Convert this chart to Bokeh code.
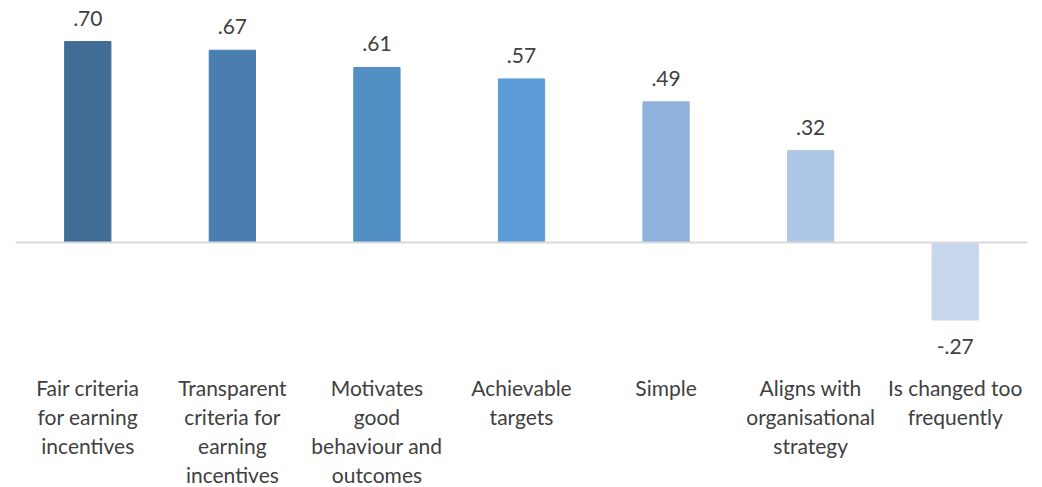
from bokeh.plotting import figure
from bokeh.models import ColumnDataSource, Range1d, Span
from bokeh.core.properties import value
from bokeh.embed import file_html
from bokeh.resources import INLINE

categories = [
    "Fair criteria\nfor earning\nincentives",
    "Transparent\ncriteria for\nearning\nincentives",
    "Motivates\ngood\nbehaviour and\noutcomes",
    "Achievable\ntargets",
    "Simple",
    "Aligns with\norganisational\nstrategy",
    "Is changed too\nfrequently",
]
values = [0.70, 0.67, 0.61, 0.57, 0.49, 0.32, -0.27]
colors = ["#416C96", "#4A7EAF", "#528FC5", "#5B9BD6", "#8EB2DC", "#AEC6E5", "#C6D7EC"]

def fmt(v):
    s = f"{abs(v):.2f}".lstrip("0")
    return ("-" if v < 0 else "") + s

xs = list(range(len(categories)))
src = ColumnDataSource(dict(
    x=xs, top=values, color=colors, label=[fmt(v) for v in values], cat=categories,
))
pos = ColumnDataSource(dict(x=[x for x, v in zip(xs, values) if v >= 0],
                            y=[v for v in values if v >= 0],
                            label=[fmt(v) for v in values if v >= 0]))
neg = ColumnDataSource(dict(x=[x for x, v in zip(xs, values) if v < 0],
                            y=[v for v in values if v < 0],
                            label=[fmt(v) for v in values if v < 0]))

W, H = 1042, 487
p = figure(width=W, height=H, output_backend="svg", toolbar_location=None,
           x_range=Range1d(-0.5, 6.5), y_range=Range1d(-0.8537, 0.8432),
           min_border_left=15, min_border_right=15, min_border_top=0, min_border_bottom=0)
p.axis.visible = False
p.grid.visible = False
p.outline_line_color = None
p.background_fill_color = "white"
p.border_fill_color = "white"

p.vbar(x="x", top="top", bottom=0, width=0.32, color="color", source=src)
p.add_layout(Span(location=0, dimension="width", line_color="#D9D9D9", line_width=2))

font = value("Lato")
p.text(x="x", y="y", text="label", source=pos, text_align="center", text_baseline="bottom",
       y_offset=-16, text_font=font, text_font_size="21px", text_color="#404040")
p.text(x="x", y="y", text="label", source=neg, text_align="center", text_baseline="top",
       y_offset=19, text_font=font, text_font_size="21px", text_color="#404040")
p.text(x="x", y=-0.462, text="cat", source=src, text_align="center", text_baseline="top",
       text_font=font, text_font_size="21px", text_color="#404040", text_line_height=1.16)

open("out.html", "w").write(file_html(p, INLINE))
